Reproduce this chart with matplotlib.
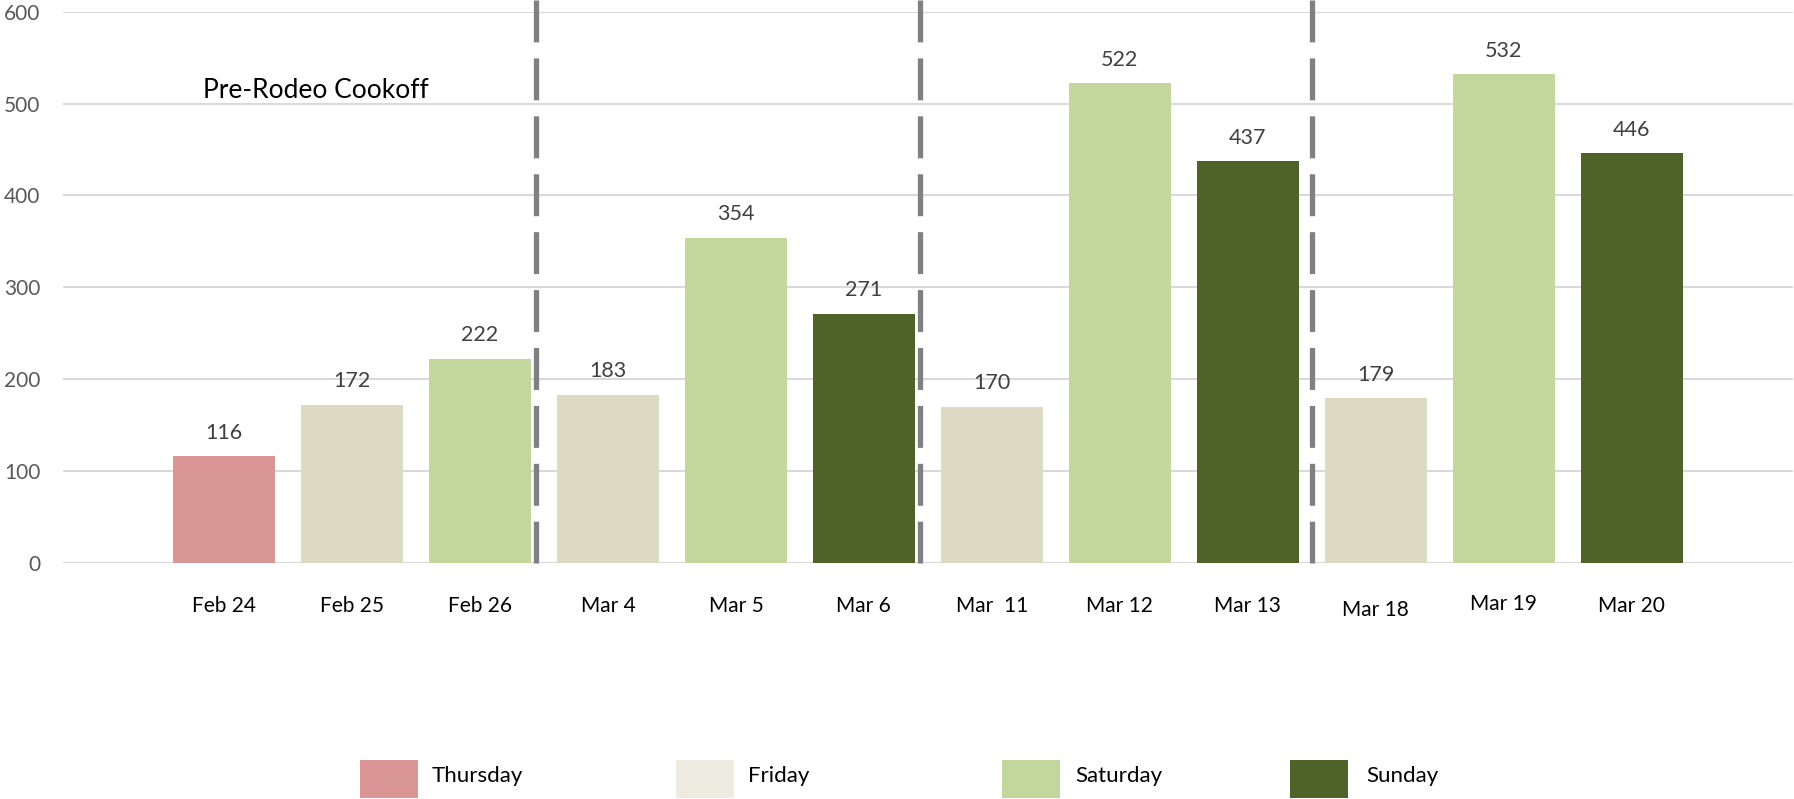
import matplotlib
matplotlib.use("Agg")
import matplotlib.pyplot as plt
from matplotlib.patches import Rectangle
import matplotlib.transforms as mtransforms

plt.rcParams['font.family'] = ['Lato', 'DejaVu Sans']
#
#   Data
#
dates = ["Feb 24", "Feb 25", "Feb 26", "Mar 4", "Mar 5", "Mar 6",
         "Mar  11", "Mar 12", "Mar 13", "Mar 18", "Mar 19", "Mar 20"]
counts = [116, 172, 222, 183, 354, 271, 170, 522, 437, 179, 532, 446]
days = ["Thursday", "Friday", "Saturday", "Friday", "Saturday", "Sunday",
        "Friday", "Saturday", "Sunday", "Friday", "Saturday", "Sunday"]
legend_days = ["Thursday", "Friday", "Saturday", "Sunday"]
# week separators (category positions)
separators = [2.44, 5.44, 8.50]
note = "Pre-Rodeo Cookoff"

bar_colors = {"Thursday": "#D99694", "Friday": "#DDD9C3",
              "Saturday": "#C3D69B", "Sunday": "#4F6228"}
legend_colors = {"Thursday": "#D99694", "Friday": "#EEECE1",
                 "Saturday": "#C3D69B", "Sunday": "#4F6228"}

W, H = 1794, 799
fig = plt.figure(figsize=(W / 100, H / 100), dpi=100)

def fx(px):
    return px / W

def fy(py):
    return 1 - py / H

x0, x1 = 62.7, 1793
y0, y1 = 562.7, 11.7
ax = fig.add_axes([fx(x0), fy(y0), fx(x1) - fx(x0), fy(y1) - fy(y0)])

xs = list(range(len(dates)))
ax.bar(xs, counts, width=0.8, color=[bar_colors[d] for d in days], zorder=2)
ax.set_xlim(-1.26, len(dates) - 1 + 1.26)
ax.set_ylim(0, 600)
ax.set_yticks(range(0, 601, 100))
ax.yaxis.grid(True, color="#D9D9D9", linewidth=1.5, zorder=0)
ax.set_axisbelow(True)
for s in ax.spines.values():
    s.set_visible(False)
ax.tick_params(axis="y", length=0, pad=16, labelsize=15, labelcolor="#595959")
ax.set_xticks(xs)
ax.set_xticklabels(dates)
ax.tick_params(axis="x", length=0, pad=24, labelsize=15, labelcolor="black")
# the text boxes under the bars are not all on one line
nudge = {"Mar 18": -3, "Mar 19": 1.5}
for lab in ax.get_xticklabels():
    dy = nudge.get(lab.get_text(), 0)
    if dy:
        lab.set_transform(lab.get_transform() +
                          mtransforms.ScaledTranslation(0, dy / 72, fig.dpi_scale_trans))
# value labels
for x, v in zip(xs, counts):
    ax.annotate(str(v), (x, v), xytext=(0, 17), textcoords="offset points",
                ha="center", va="center", fontsize=15.5, color="#404040")
# dashed week separators, run from top of figure down to 0
top = 600 + y1 / ((y0 - y1) / 600)
lw = 3.8
for sx in separators:
    ax.plot([sx, sx], [top, 0], color="#808080", linewidth=lw,
            dashes=(30.2 / lw, 11.5 / lw), solid_capstyle="butt",
            dash_capstyle="butt", clip_on=False, zorder=3)

fig.text(fx(316), fy(90), note, ha="center", va="center", fontsize=19, color="black")

# legend drawn as separate boxes
patch_x = [360, 676, 1002, 1290]
text_x = [432, 748, 1075, 1366]
for d, px, tx in zip(legend_days, patch_x, text_x):
    fig.add_artist(Rectangle((fx(px), fy(798)), fx(58), 38 / H,
                             transform=fig.transFigure,
                             facecolor=legend_colors[d], edgecolor="none"))
    fig.text(fx(tx), fy(776), d, ha="left", va="center", fontsize=16, color="black")

fig.savefig("out.png", dpi=100)
